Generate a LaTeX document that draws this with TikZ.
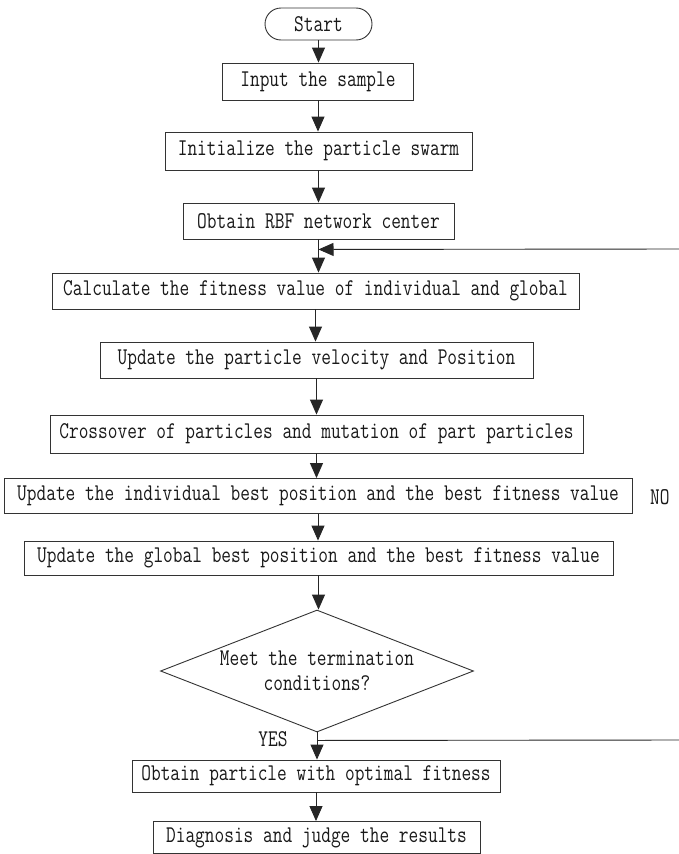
\documentclass[tikz,border=0pt]{standalone}
\usepackage{fontspec}
\usetikzlibrary{arrows.meta,shapes.geometric,calc}
\newfontfamily\flowfont{Latin Modern Mono}[FakeStretch=0.785]
\begin{document}
\begin{tikzpicture}[x=1pt,y=-1pt,
  every node/.style={font=\flowfont\fontsize{24}{25}\selectfont, text=black!90},
  box/.style={draw=black!80, line width=0.9pt, inner sep=0pt},
  arr/.style={-{Triangle[length=15pt,width=13pt]}, line width=0.9pt, draw=black!85},
  lbl/.style={inner sep=0pt}]
\useasboundingbox (0,0) rectangle (679,854);
\fill[white] (0,0) rectangle (679,854);
\node[box, minimum width=107pt, minimum height=32pt, rounded corners=16pt] (start) at (318.5,24) {Start};
\node[box, minimum width=191pt, minimum height=37pt] (input) at (318,81.5) {Input the sample};
\node[box, minimum width=307pt, minimum height=38pt] (init) at (318.5,151) {Initialize the particle swarm};
\node[box, minimum width=271pt, minimum height=36pt] (rbf) at (318.5,221) {Obtain RBF network center};
\node[box, minimum width=527pt, minimum height=36pt] (calc) at (315.5,291) {Calculate the fitness value of individual and global};
\node[box, minimum width=433pt, minimum height=36pt] (vel) at (316.5,360) {Update the particle velocity and Position};
\node[box, minimum width=533pt, minimum height=38pt] (cross) at (316.5,434) {Crossover of particles and mutation of part particles};
\node[box, minimum width=628pt, minimum height=35pt] (indiv) at (318,496) {Update the individual best position and the best fitness value};
\node[box, minimum width=589pt, minimum height=34pt] (glob) at (318.5,558) {Update the global best position and the best fitness value};
\node[diamond, draw=black!80, line width=0.9pt, minimum width=313pt, minimum height=122pt, inner sep=0pt, shape aspect=2.57, align=center] (dec) at (317,671) {Meet the termination\\conditions?};
\node[box, minimum width=368pt, minimum height=32pt] (opt) at (316,776) {Obtain particle with optimal fitness};
\node[box, minimum width=327pt, minimum height=32pt] (diag) at (316.5,837.5) {Diagnosis and judge the results};
\node[lbl] (yes) at (273,739) {YES};
\node[lbl, anchor=west] (no) at (650,497) {NO};
% main flow
\draw[arr] (start) -- (start |- input.north);
\draw[arr] (input) -- (input |- init.north);
\draw[arr] (init) -- (init |- rbf.north);
\draw[arr] (rbf) -- (rbf |- calc.north);
\draw[arr] (calc) -- (calc |- vel.north);
\draw[arr] (vel) -- (vel |- cross.north);
\draw[arr] (cross) -- (cross |- indiv.north);
\draw[arr] (indiv) -- (indiv |- glob.north);
\draw[arr] (glob) -- (glob |- dec.north);
\draw[arr] (dec) -- (dec |- opt.north);
\draw[arr] (opt) -- (opt |- diag.north);
% NO feedback loop
\coordinate (yj) at ($(dec.south)+(0,8)$);
\coordinate (fb) at ($(rbf.south)+(0,10)$);
\coordinate (c1) at (684,740);
\coordinate (c2) at (684,249);
\draw[arr] (yj) -- (c1) -- (c2) -- (fb);
\end{tikzpicture}
\end{document}
